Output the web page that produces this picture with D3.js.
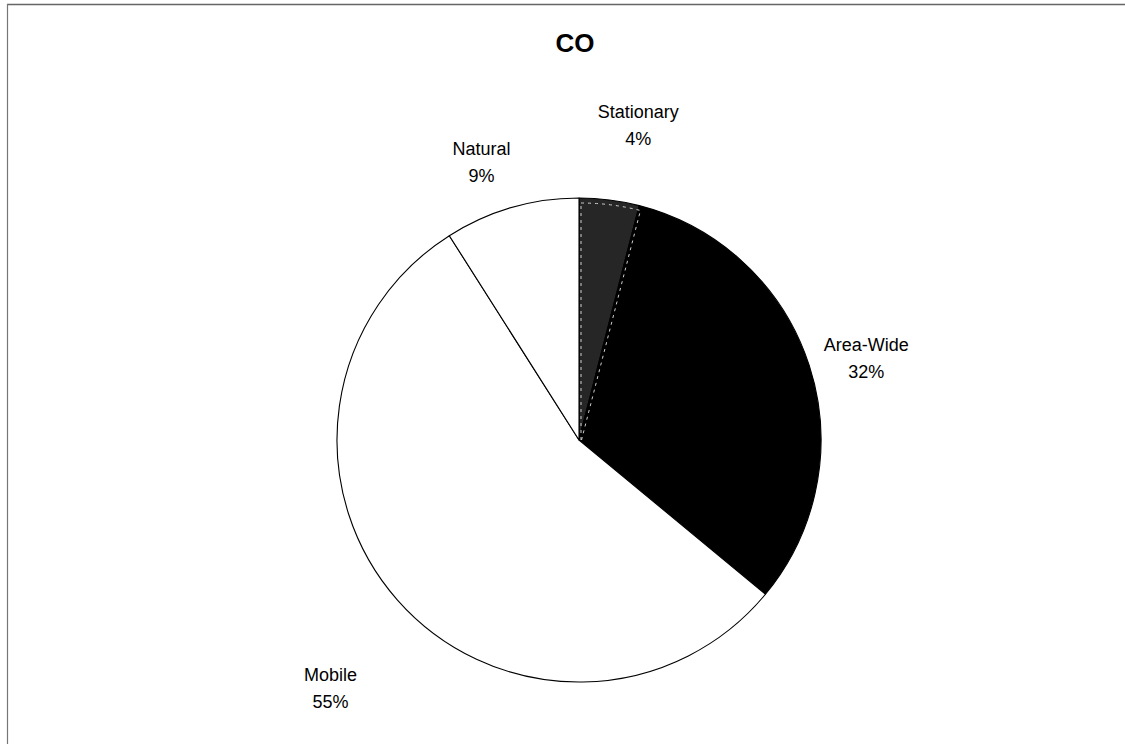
<!DOCTYPE html>
<html>
<head>
<meta charset="utf-8">
<script src="https://cdn.jsdelivr.net/npm/d3@7"></script>
<style>
  html, body { margin: 0; padding: 0; background: #fff; }
  svg { display: block; }
</style>
</head>
<body>
<svg id="chart" width="1125" height="744"></svg>
<script>
// CO emissions by source category
const categories = ["Stationary", "Area-Wide", "Mobile", "Natural"];
const shares = [4, 32, 55, 9];
const fills = ["#262626", "#000000", "#ffffff", "#ffffff"];
// label nudges (px) from the slice's outer edge at mid-angle
const labelNudge = [[29, -80], [57, -12], [-67, 83], [-30, -51]];

const svg = d3.select("#chart");
const W = 1125, H = 744;
const cx = 579, cy = 440, r = 242;
const font = "Liberation Sans, Arial, sans-serif";

// frame lines
svg.append("line").attr("x1", 7).attr("y1", 4.5).attr("x2", W).attr("y2", 4.5)
  .attr("stroke", "#666").attr("stroke-width", 1.5);
svg.append("line").attr("x1", 7.5).attr("y1", 4).attr("x2", 7.5).attr("y2", H)
  .attr("stroke", "#777").attr("stroke-width", 1.2);

svg.append("text")
  .attr("x", 575).attr("y", 52)
  .attr("text-anchor", "middle")
  .attr("font-family", font)
  .attr("font-weight", "bold")
  .attr("font-size", 26)
  .text("CO");

const pie = d3.pie().sort(null).value(d => d)(shares);
const arc = d3.arc().innerRadius(0).outerRadius(r);

const g = svg.append("g").attr("transform", `translate(${cx},${cy})`);

g.selectAll("path.slice")
  .data(pie)
  .join("path")
  .attr("class", "slice")
  .attr("d", arc)
  .attr("fill", (d, i) => fills[i])
  .attr("stroke", "#000")
  .attr("stroke-width", 1.1)
  .attr("stroke-linejoin", "round");

// light dotted edge on the Stationary slice
g.append("path")
  .datum(pie[0])
  .attr("d", d3.arc().innerRadius(0).outerRadius(r - 3))
  .attr("fill", "none")
  .attr("stroke", "#d0d0d0")
  .attr("stroke-width", 1)
  .attr("stroke-dasharray", "3,4")
  .attr("transform", "translate(2,2)");

const labels = g.selectAll("g.lbl")
  .data(pie)
  .join("g")
  .attr("class", "lbl")
  .attr("transform", (d, i) => {
    const a = (d.startAngle + d.endAngle) / 2;
    const x = r * Math.sin(a) + labelNudge[i][0];
    const y = -r * Math.cos(a) + labelNudge[i][1];
    return `translate(${x},${y})`;
  });

labels.append("text")
  .attr("text-anchor", "middle")
  .attr("font-family", font)
  .attr("font-size", 18)
  .attr("y", -2)
  .text((d, i) => categories[i]);

labels.append("text")
  .attr("text-anchor", "middle")
  .attr("font-family", font)
  .attr("font-size", 18)
  .attr("y", 25)
  .text((d, i) => shares[i] + "%");
</script>
</body>
</html>
